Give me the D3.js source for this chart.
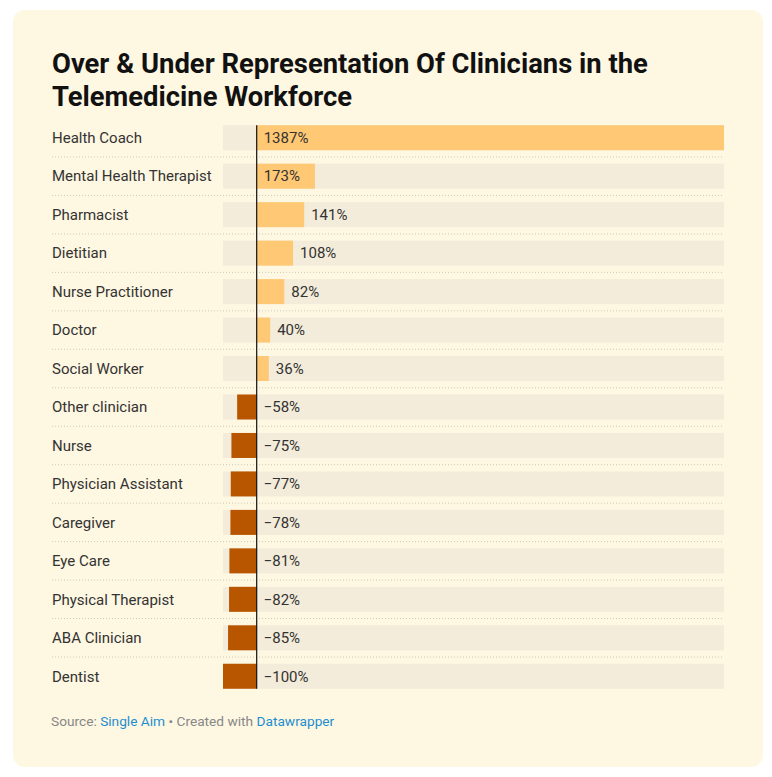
<!DOCTYPE html>
<html><head><meta charset="utf-8">
<script src="https://cdn.jsdelivr.net/npm/d3@7"></script>
<style>
body{margin:0;background:#fff;font-family:Roboto,"Noto Sans",sans-serif;}
</style></head><body>
<svg id="c" width="772" height="777"></svg>
<script>
const categories = ["Health Coach","Mental Health Therapist","Pharmacist","Dietitian","Nurse Practitioner","Doctor","Social Worker","Other clinician","Nurse","Physician Assistant","Caregiver","Eye Care","Physical Therapist","ABA Clinician","Dentist"];
const values = [1387,173,141,108,82,40,36,-58,-75,-77,-78,-81,-82,-85,-100];
const titleLines = ["Over & Under Representation Of Clinicians in the","Telemedicine Workforce"];

const svg = d3.select("#c");
svg.append("rect").attr("x",13).attr("y",10).attr("width",750).attr("height",757).attr("rx",12).attr("fill","#fef7e1");

const title = svg.append("text").attr("font-family","Roboto").attr("font-weight",700).attr("font-size",27.4).attr("fill","#111");
titleLines.forEach((t,i)=>title.append("tspan").attr("x",52).attr("y",73+i*33).text(t));

const x = d3.scaleLinear().domain([d3.min(values), d3.max(values)]).range([223,724]);
const y = d3.scaleBand().domain(categories).range([118.5, 695.5]).paddingInner(0.35).paddingOuter(0.175);
const bw = y.bandwidth();
const step = y.step();

const g = svg.append("g");
const rows = g.selectAll("g.row").data(categories.map((c,i)=>({c,v:values[i]}))).join("g");
rows.append("rect").attr("x",x.range()[0]).attr("width",x.range()[1]-x.range()[0]).attr("y",d=>y(d.c)).attr("height",bw).attr("fill","#f3ecda");
rows.append("rect").attr("x",d=>Math.min(x(0),x(d.v))).attr("width",d=>Math.abs(x(d.v)-x(0))).attr("y",d=>y(d.c)).attr("height",bw).attr("fill",d=>d.v>=0?"#ffc874":"#b85600");
rows.filter((d,i)=>i>0).append("line").attr("x1",52).attr("x2",724).attr("y1",d=>y(d.c)-(step-bw)/2).attr("y2",d=>y(d.c)-(step-bw)/2).attr("stroke","#cfc8b8").attr("stroke-dasharray","1,2");
rows.append("text").attr("x",52).attr("y",d=>y(d.c)+bw/2).attr("dy","0.35em").attr("font-size",15).attr("fill","#333").text(d=>d.c);
const fmt = v => (v<0?"\u2212":"")+Math.abs(v)+"%";
rows.append("text").attr("font-size",15).attr("fill","#333").attr("y",d=>y(d.c)+bw/2).attr("dy","0.35em").text(d=>fmt(d.v))
  .each(function(d){
    const w = this.getComputedTextLength();
    const bl = x(d.v)-x(0);
    let px;
    if (d.v<0) px = x(0)+7;
    else if (bl >= w+14) px = x(0)+7;
    else px = x(d.v)+7;
    d3.select(this).attr("x",px);
  });
g.append("line").attr("x1",x(0)).attr("x2",x(0)).attr("y1",y(categories[0])).attr("y2",y(categories[categories.length-1])+bw).attr("stroke","#111").attr("stroke-width",1.2);

const f = svg.append("text").attr("x",51).attr("y",726).attr("font-size",13.7).attr("fill","#888");
f.append("tspan").text("Source: ");
f.append("tspan").attr("fill","#1d8ed0").text("Single Aim");
f.append("tspan").text(" \u2022 Created with ");
f.append("tspan").attr("fill","#1d8ed0").text("Datawrapper");
</script></body></html>
